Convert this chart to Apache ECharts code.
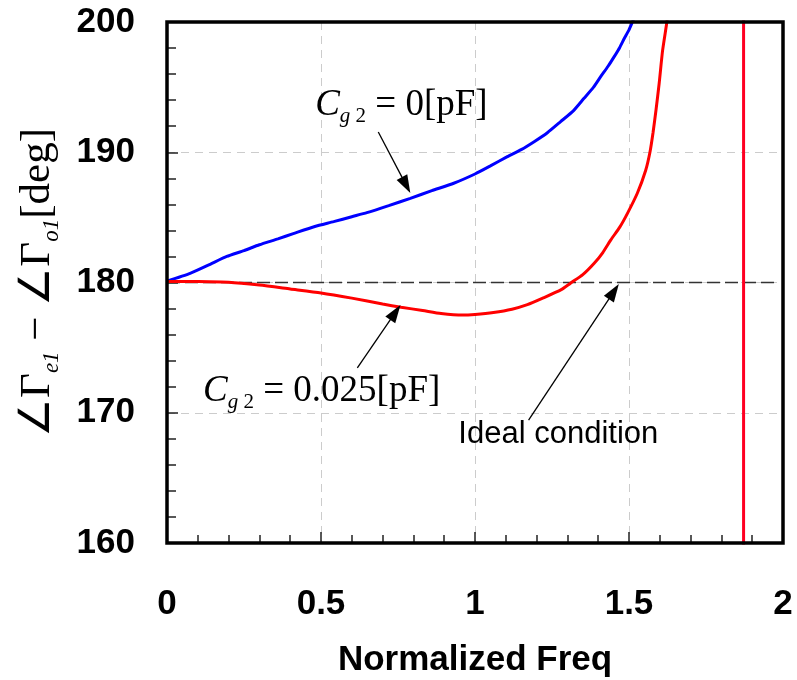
<!DOCTYPE html>
<html><head><meta charset="utf-8">
<script src="https://cdn.jsdelivr.net/npm/echarts@6/dist/echarts.min.js"></script>
<style>html,body{margin:0;padding:0;background:#fff}#c{width:797px;height:680px}</style>
</head><body><div id="c"></div>
<script>
// ---- data ----
const blueCg0 = [[0,180.1],[0.075,180.7],[0.14,181.4],[0.194,182.0],[0.25,182.45],[0.30,182.9],[0.36,183.35],[0.41,183.75],[0.48,184.3],[0.541,184.67],[0.6,185.05],[0.649,185.36],[0.72,185.9],[0.79,186.46],[0.86,187.05],[0.931,187.62],[1.0,188.33],[1.05,188.95],[1.105,189.66],[1.15,190.2],[1.192,190.81],[1.235,191.5],[1.278,192.35],[1.32,193.2],[1.354,194.14],[1.385,195.0],[1.408,195.8],[1.432,196.6],[1.452,197.34],[1.47,198.05],[1.485,198.75],[1.5,199.4],[1.511,200.0],[1.52,200.5]];
const redCg025 = [[0,180.08],[0.1,180.07],[0.2,180.02],[0.3,179.8],[0.4,179.5],[0.5,179.2],[0.6,178.8],[0.7,178.35],[0.76,178.1],[0.83,177.85],[0.89,177.62],[0.96,177.5],[1.0,177.55],[1.06,177.7],[1.12,177.95],[1.17,178.3],[1.22,178.8],[1.28,179.45],[1.31,179.95],[1.35,180.6],[1.387,181.47],[1.415,182.3],[1.441,183.27],[1.47,184.25],[1.495,185.31],[1.527,186.85],[1.554,188.6],[1.568,190.0],[1.578,191.5],[1.588,193.3],[1.598,195.3],[1.609,197.8],[1.623,200],[1.628,201]];
const redJump = [[1.872,150],[1.872,210]];
const idealLine = [[0,180],[1.975,180]];
const xRange = [0, 2, 0.5];
const yRange = [160, 200, 10];
const xName = 'Normalized Freq';
const annoTexts = [
  {pos:[0.481,192.7], text:'{ci|C}{si|g}{sr| 2}{m| = 0[pF]}', kind:'serif'},
  {pos:[0.117,170.73], text:'{ci|C}{si|g}{sr| 2}{m| = 0.025[pF]}', kind:'serif'},
  {pos:[0.946,167.37], text:'Ideal condition', kind:'sans'}
];
const arrows = [
  [[0.686,191.55],[0.790,186.87]],
  [[0.618,173.44],[0.758,178.27]],
  [[1.174,169.44],[1.467,179.88]]
];

const chart = echarts.init(document.getElementById('c'), null, {renderer:'canvas'});
const gridLine = {show:true, lineStyle:{color:'#cccccc', width:1, type:[8,6]}};
chart.setOption({
  animation:false,
  backgroundColor:'#fff',
  grid:{left:167, right:14, top:22, bottom:137, show:false, containLabel:false, outerBoundsMode:'none'},
  xAxis:{type:'value', min:xRange[0], max:xRange[1], interval:xRange[2],
    name:xName, nameLocation:'middle', nameGap:100,
    nameTextStyle:{fontFamily:'Liberation Sans', fontWeight:'bold', fontSize:35, color:'#000'},
    axisLine:{show:false},
    axisTick:{show:true, inside:true, length:11, lineStyle:{color:'#222', width:1.5}},
    minorTick:{show:true, splitNumber:5, length:8, lineStyle:{color:'#222', width:1.5}},
    splitLine:gridLine,
    axisLabel:{fontFamily:'Liberation Sans', fontWeight:'bold', fontSize:35, color:'#000', margin:44,
      showMinLabel:true, showMaxLabel:true}
  },
  yAxis:{type:'value', min:yRange[0], max:yRange[1], interval:yRange[2],
    name:'{m|∠Γ}{s|e1}{m| − ∠Γ}{s|o1}{m|[deg]}', nameLocation:'middle', nameRotate:90, nameGap:104,
    nameTextStyle:{rich:{
      m:{fontFamily:'Liberation Serif', fontSize:43, lineHeight:50, color:'#000'},
      s:{fontFamily:'Liberation Serif', fontStyle:'italic', fontSize:23, lineHeight:23, verticalAlign:'bottom', color:'#000'}
    }},
    axisLine:{show:false},
    axisTick:{show:true, inside:true, length:11, lineStyle:{color:'#222', width:1.5}},
    minorTick:{show:true, splitNumber:5, length:9, lineStyle:{color:'#222', width:1.5}},
    splitLine:gridLine,
    axisLabel:{fontFamily:'Liberation Sans', fontWeight:'bold', fontSize:35, color:'#000', margin:32}
  },
  series:[
    {type:'line', data:idealLine, showSymbol:false, clip:true, lineStyle:{color:'#333', width:1.5, type:[13,5]}, z:3},
    {type:'line', data:blueCg0, showSymbol:false, clip:true, smooth:0.2, lineStyle:{color:'#0000ff', width:3}, z:4},
    {type:'line', data:redCg025, showSymbol:false, clip:true, smooth:0.2, lineStyle:{color:'#ff0000', width:3}, z:4},
    {type:'line', data:redJump, showSymbol:false, clip:true, lineStyle:{color:'#ff0022', width:3}, z:4}
  ]
});

function arrowEls(p0, p1){
  const dx=p1[0]-p0[0], dy=p1[1]-p0[1], L=Math.hypot(dx,dy), ux=dx/L, uy=dy/L;
  const hl=18, hw=6, bx=p1[0]-ux*hl, by=p1[1]-uy*hl;
  return [
    {type:'line', shape:{x1:p0[0],y1:p0[1],x2:bx+ux*2,y2:by+uy*2}, style:{stroke:'#000', lineWidth:1.3}, z:10},
    {type:'polygon', shape:{points:[[p1[0],p1[1]],[bx-uy*hw,by+ux*hw],[bx+uy*hw,by-ux*hw]]}, style:{fill:'#000'}, z:10}
  ];
}
const els = [];
// plot frame
const c0 = chart.convertToPixel({gridIndex:0}, [xRange[0], yRange[1]]);
const c1 = chart.convertToPixel({gridIndex:0}, [xRange[1], yRange[0]]);
els.push({type:'rect', shape:{x:c0[0], y:c0[1], width:c1[0]-c0[0], height:c1[1]-c0[1]},
  style:{fill:'none', stroke:'#000', lineWidth:3.5}, z:20, silent:true});
arrows.forEach(a => {
  const p0 = chart.convertToPixel({gridIndex:0}, a[0]);
  const p1 = chart.convertToPixel({gridIndex:0}, a[1]);
  els.push(...arrowEls(p0, p1));
});
const serifRich = {
  ci:{fontFamily:'Liberation Serif', fontStyle:'italic', fontSize:37, lineHeight:44, fill:'#000'},
  si:{fontFamily:'Liberation Serif', fontStyle:'italic', fontSize:21, lineHeight:21, verticalAlign:'bottom', fill:'#000'},
  sr:{fontFamily:'Liberation Serif', fontSize:21, lineHeight:21, verticalAlign:'bottom', fill:'#000'},
  m:{fontFamily:'Liberation Serif', fontSize:37, lineHeight:44, fill:'#000'}
};
annoTexts.forEach(t => {
  const p = chart.convertToPixel({gridIndex:0}, t.pos);
  if (t.kind === 'serif') {
    els.push({type:'text', x:p[0], y:p[1]-34, z:10, style:{text:t.text, rich:serifRich, verticalAlign:'top', align:'left'}});
  } else {
    els.push({type:'text', x:p[0], y:p[1]-28, z:10, style:{text:t.text, font:'31px "Liberation Sans"', fill:'#000', verticalAlign:'top', align:'left'}});
  }
});
chart.setOption({graphic:{elements:els}});
</script></body></html>
